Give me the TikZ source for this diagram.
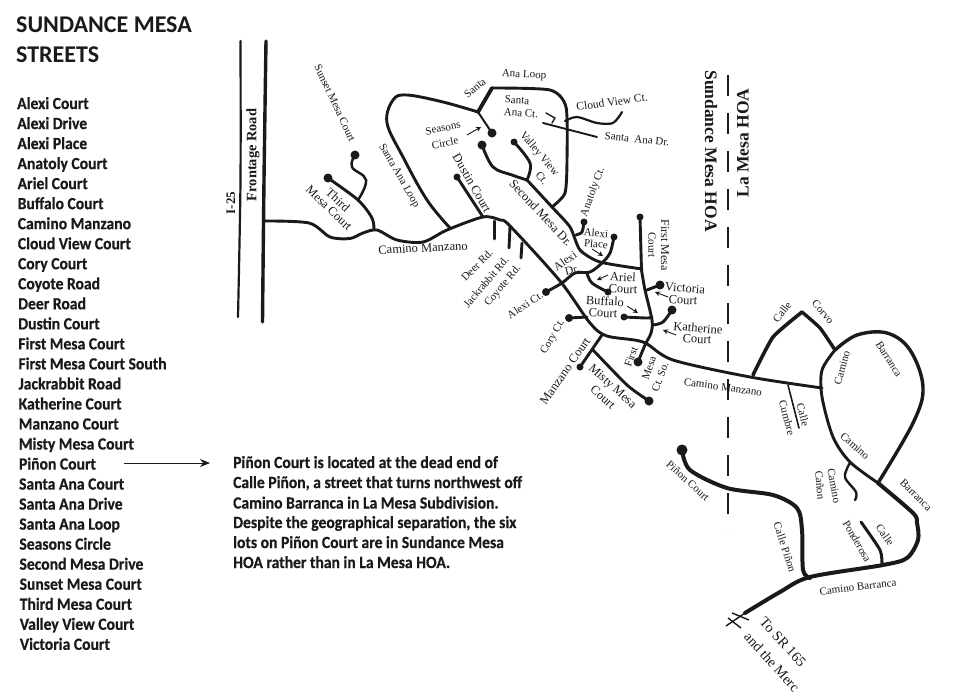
\documentclass[tikz,border=0pt]{standalone}
\usepackage{fontspec}
\setmainfont{Liberation Serif}
\newfontfamily\listfont[FakeStretch=0.92,BoldFeatures={FakeBold=0.5}]{Carlito}
\newfontfamily\titlefont{Carlito}
\usetikzlibrary{arrows.meta}
\definecolor{ink}{HTML}{1A1A1A}
\tikzset{
  road/.style={draw=ink,line width=2.9pt,line cap=round,line join=round},
  thinroad/.style={road,line width=1.7pt},
  thickroad/.style={road,line width=3.8pt},
  enddot/.style={fill=ink,draw=none,circle,inner sep=0pt,minimum size=9pt},
  lbl/.style={text=ink,font=\fontsize{11}{12}\selectfont,inner sep=0pt},
  biglbl/.style={text=ink,font=\fontsize{12.5}{14}\selectfont,inner sep=0pt},
  hoa/.style={text=ink,font=\fontsize{17.5}{18}\selectfont\bfseries,inner sep=0pt},
  listitem/.style={text=ink,anchor=base west,inner sep=0pt,font=\listfont\fontsize{17}{18}\selectfont\bfseries},
  titletext/.style={text=ink,anchor=base west,inner sep=0pt,font=\titlefont\fontsize{24}{25}\selectfont\bfseries},
  paratext/.style={text=ink,anchor=base west,inner sep=0pt,font=\listfont\fontsize{17}{18}\selectfont\bfseries},
  smallarrow/.style={draw=ink,line width=0.9pt,-{Stealth[length=5pt,width=5pt]}},
}
\begin{document}
\begin{tikzpicture}[x=1pt,y=-1pt]
\useasboundingbox (0,0) rectangle (960,699);
\fill[white] (0,0) rectangle (960,699);
% Title and list
\node[titletext] (t1) at (16,32) {SUNDANCE MESA};
\node[titletext] (t2) at (16,62.7) {STREETS};
\foreach \name [count=\i from 0] in {Alexi Court,Alexi Drive,Alexi Place,Anatoly Court,Ariel Court,Buffalo Court,Camino Manzano,Cloud View Court,Cory Court,Coyote Road,Deer Road,Dustin Court,First Mesa Court,First Mesa Court South,Jackrabbit Road,Katherine Court,Manzano Court,Misty Mesa Court,Piñon Court,Santa Ana Court,Santa Ana Drive,Santa Ana Loop,Seasons Circle,Second Mesa Drive,Sunset Mesa Court,Third Mesa Court,Valley View Court,Victoria Court}{
  \node[listitem] (item\i) at ({17+\i*0.1},{109+\i*20.03}) {\name};
}
% Paragraph
\node[paratext] (p1) at (233,468) {Piñon Court is located at the dead end of};
\node[paratext] (p2) at (233,488) {Calle Piñon, a street that turns northwest off};
\node[paratext] (p3) at (233,508.5) {Camino Barranca in La Mesa Subdivision.};
\node[paratext] (p4) at (233,528) {Despite the geographical separation, the six};
\node[paratext] (p5) at (233,548) {lots on Piñon Court are in Sundance Mesa};
\node[paratext] (p6) at (233,568) {HOA rather than in La Mesa HOA.};
\coordinate (arrA) at (124,463);
\coordinate (arrB) at (210,463);
\draw[draw=ink,line width=0.9pt,-{Stealth[length=10pt,width=8pt]}] (arrA) -- (arrB);
% Highways
\draw[road,line width=2.2pt] plot[smooth] coordinates {(240.5,41) (240.5,180) (238,317)};
\draw[road,line width=3.4pt] plot[smooth] coordinates {(266,41) (264,180) (262.5,322)};
% Camino Manzano west part
\draw[road] plot[smooth,tension=0.5] coordinates {(264,221) (309,223) (330,237) (350,238.5) (363,233) (377,230) (397,240) (423,242) (447,230) (483,217) (500,220) (510,226) (560,281) (590,323) (607,336) (643,342) (673,360) (750,377) (822,388)};
% Third mesa, sunset mesa
\draw[road] plot[smooth,tension=0.5] coordinates {(328,178) (358,200) (372,218) (374,230)};
\node[enddot] (d1) at (328,178) {};
\draw[road,line width=2.5pt] plot[smooth,tension=0.7] coordinates {(355,155) (352,167) (366,180) (358,200)};
\node[enddot] (d2) at (355,155) {};
% Santa Ana Loop
\draw[road] plot[smooth,tension=0.6] coordinates {(450,228) (427,200) (403,157) (387,123) (393,100) (407,95) (443,102) (478,112)};
\draw[thickroad] (478,112) -- (492,88);
\draw[road] plot[smooth,tension=0.4] coordinates {(492,88) (550,90) (566,107) (567,160) (565,193) (552,207)};
\draw[road,line width=2pt] (478,112) -- (492,133);
\node[enddot] (d3) at (492,133) {};
\draw[road] plot[smooth,tension=0.6] coordinates {(482,145) (493,167) (512,175) (527,180)};
\node[enddot] (d4) at (482,145) {};
\draw[road] plot[smooth,tension=0.6] coordinates {(514,142) (530,163) (527,180)};
\node[enddot,minimum size=7pt] (d5) at (514,142) {};
\draw[road] plot[smooth,tension=0.4] coordinates {(527,180) (552,207) (570,227) (580,250) (600,262) (642,269)};
\draw[road] plot[smooth,tension=0.5] coordinates {(584,222) (582,232) (576,235)};
\node[enddot,minimum size=7pt] (d6) at (584,222) {};
% First Mesa Court
\draw[road] (640,217) -- (641.5,270);
\node[enddot,minimum size=7pt] (d7) at (640,217) {};
\draw[road] plot[smooth,tension=0.5] coordinates {(641.5,270) (645,290) (652,320) (651,333) (645,345) (638,362)};
\node[enddot] (d8) at (638,362) {};
% Alexi
\draw[road] plot[smooth,tension=0.5] coordinates {(614,237) (610,253) (602,263) (590,272) (575,273) (562,283) (546,292)};
\node[enddot,minimum size=8pt] (d9) at (546,292) {};
\node[enddot,minimum size=7pt] (d10) at (614,237) {};
\draw[road] plot[smooth,tension=0.6] coordinates {(587,273) (592,283) (608,292)};
\node[enddot,minimum size=7pt] (d11) at (608,292) {};
\draw[road] (647,290) -- (660,285);
\node[enddot] (d12) at (660,285) {};
\draw[road] plot[smooth,tension=0.5] coordinates {(624,317) (647,318) (652,317)};
\node[enddot,minimum size=7pt] (d13) at (624,317) {};
\draw[road] plot[smooth,tension=0.5] coordinates {(653,325) (663,322) (672,310)};
\node[enddot] (d14) at (672,310) {};
\draw[road] (569,318) -- (587,317);
\node[enddot,minimum size=8pt] (d15) at (569,318) {};
\draw[road] (602,335) -- (580,367);
\node[enddot,minimum size=7pt] (d16) at (580,367) {};
\draw[road] plot[smooth,tension=0.4] coordinates {(593,350) (627,385) (649,401)};
\node[enddot] (d17) at (649,401) {};
% stubs
\draw[road] (494.5,221) -- (494.5,239);
\draw[road] (510,227) -- (509,248);
\draw[road] (522,243) -- (521,258);
\draw[road] (457,177) -- (483,217);
\node[enddot,minimum size=7pt] (d18) at (457,177) {};
% Cloud View, Santa Ana Dr.
\draw[road,line width=2.2pt] plot[smooth,tension=0.5] coordinates {(565,121) (577,117) (597,123) (613,123) (622,112)};
\draw[road,line width=1.9pt] (543,123) -- (597,137);
\draw[thinroad,line width=1.4pt] (546,113) -- (555,118) -- (552,123);
% Arrows
\draw[smallarrow] (467,135) -- (481,127);
\draw[smallarrow] (592,249) -- (603,256);
\draw[smallarrow] (608,275) -- (597,280);
\draw[smallarrow] (627,306) -- (638,313);
\draw[smallarrow] (668,297) -- (655,292);
\draw[smallarrow] (676,335) -- (663,330);
% East side
\draw[road,line width=3.6pt] plot[smooth,tension=0.3] coordinates {(753,375) (773,337) (802,312)};
\draw[road,line width=3.4pt] plot[smooth,tension=0.3] coordinates {(802,312) (820,328) (835,350)};
\draw[road] plot[smooth,tension=0.5] coordinates {(835,350) (822,370) (822,397) (833,437) (850,462) (878,483)};
\draw[road,line width=3.4pt] plot[smooth,tension=0.6] coordinates {(835,350) (857,335) (887,333) (910,350) (923,387) (913,423) (878,483)};
\draw[road,line width=4pt] plot[smooth,tension=0.5] coordinates {(878,483) (913,513) (917,523) (918,540) (907,558) (883,565) (810,577) (780,592) (745,613)};
\draw[thinroad,line width=1.6pt] (788,385) -- (799,428);
\draw[road,line width=2.4pt] plot[smooth,tension=0.6] coordinates {(850,463) (845,477) (856,492) (855,500)};
\draw[road,line width=3pt] plot[smooth,tension=0.4] coordinates {(861,522) (880,550) (882,565)};
\draw[thickroad,line width=4pt] plot[smooth,tension=0.5] coordinates {(682,450) (690,470) (727,488) (773,495) (797,508) (802,530) (803,570) (810,578)};
\node[enddot,minimum size=11pt] (d19) at (682,450) {};
% Road break
\draw[draw=ink,line width=1.4pt] (726,626) -- (745,613);
\draw[draw=ink,line width=1.4pt] (732,613) -- (749,620);
\draw[draw=ink,line width=1.4pt] (728,618) -- (741,628);
% HOA boundary
\draw[draw=ink,line width=1.2pt,dash pattern=on 21pt off 17pt] (728,75) -- (728,531);
% Labels
\node[lbl,rotate=90,font=\fontsize{14.4}{15}\selectfont\bfseries] (l1) at (253,155) {Frontage Road};
\node[lbl,rotate=90,font=\fontsize{13}{14}\selectfont\bfseries] (l2) at (231,203) {I-25};
\node[lbl,rotate=-65] (l3) at (335,103) {Sunset Mesa Court};
\node[biglbl,rotate=-43] (l4) at (338,200) {Third};
\node[biglbl,rotate=-44] (l5) at (329,208) {Mesa Court};
\node[lbl,rotate=-60] (l6) at (399,176) {Santa Ana Loop};
\node[lbl,rotate=12] (l7) at (443,128) {Seasons};
\node[lbl,rotate=12] (l8) at (445,143) {Circle};
\node[biglbl,rotate=-60] (l9) at (472,183) {Dustin Court};
\node[lbl,rotate=40] (l10) at (475,88) {Santa};
\node[lbl,rotate=-3] (l11) at (524,75) {Ana Loop};
\node[lbl,rotate=-4] (l12) at (517,100) {Santa};
\node[lbl,rotate=-5] (l13) at (521,113) {Ana Ct.};
\node[lbl,rotate=8,font=\fontsize{11.5}{12}\selectfont] (l14) at (612,102) {Cloud View Ct.};
\node[lbl,rotate=-6] (l15) at (637,139) {Santa\ \ Ana Dr.};
\node[lbl,rotate=-50] (l16) at (539,154) {Valley View};
\node[lbl,rotate=-50] (l17) at (542,178) {Ct.};
\node[biglbl,rotate=-47] (l18) at (541,213) {Second Mesa Dr.};
\node[lbl,rotate=70] (l19) at (593,192) {Anatoly Ct.};
\node[lbl,rotate=-5] (l20) at (596,233) {Alexi};
\node[lbl,rotate=-5] (l21) at (596,244) {Place};
\node[lbl,rotate=-90,font=\fontsize{12}{13}\selectfont] (l22) at (665,245) {First Mesa};
\node[lbl,rotate=-90] (l23) at (652,245) {Court};
\node[hoa,rotate=-90] (l24) at (711,151) {Sundance Mesa HOA};
\node[hoa,rotate=90] (l25) at (743,143) {La Mesa HOA};
\node[lbl,rotate=45] (l26) at (477,265) {Deer Rd.};
\node[lbl,rotate=50] (l27) at (486,282) {Jackrabbit Rd.};
\node[lbl,rotate=50] (l28) at (503,286) {Coyote Rd.};
\node[lbl,rotate=33] (l29) at (525,305) {Alexi Ct.};
\node[lbl,rotate=35,font=\fontsize{11.5}{12}\selectfont] (l30) at (565,261) {Alexi};
\node[lbl,rotate=15,font=\fontsize{11.5}{12}\selectfont] (l31) at (572,270) {Dr.};
\node[biglbl,rotate=-3] (l32) at (623,277) {Ariel};
\node[biglbl,rotate=-3] (l33) at (623,289) {Court};
\node[biglbl,rotate=-5] (l34) at (685,288) {Victoria};
\node[biglbl,rotate=-3] (l35) at (683,300) {Court};
\node[biglbl,rotate=-3] (l36) at (605,301) {Buffalo};
\node[biglbl,rotate=-3] (l37) at (603,313) {Court};
\node[biglbl,rotate=-5] (l38) at (698,328) {Katherine};
\node[biglbl,rotate=-3] (l39) at (697,339) {Court};
\node[lbl,rotate=60] (l40) at (553,337) {Cory Ct.};
\node[biglbl,rotate=55] (l41) at (565,371) {Manzano Court};
\node[biglbl,rotate=-42] (l42) at (612,387) {Misty Mesa};
\node[biglbl,rotate=-42] (l43) at (603,397) {Court};
\node[lbl,rotate=70] (l44) at (631,357) {First};
\node[lbl,rotate=70] (l45) at (649,368) {Mesa};
\node[lbl,rotate=70] (l46) at (660,377) {Ct. So.};
\node[lbl,rotate=-8] (l47) at (723,387) {Camino Manzano};
\node[lbl,rotate=3,font=\fontsize{12.5}{13}\selectfont] (l48) at (423,248) {Camino Manzano};
\node[lbl,rotate=52] (l49) at (782,312) {Calle};
\node[lbl,rotate=-50] (l50) at (823,312) {Corvo};
\node[lbl,rotate=75] (l51) at (842,368) {Camino};
\node[lbl,rotate=-58] (l52) at (889,359) {Barranca};
\node[lbl,rotate=-75] (l53) at (803,415) {Calle};
\node[lbl,rotate=-75] (l54) at (787,418) {Cumbre};
\node[lbl,rotate=-42] (l55) at (855,446) {Camino};
\node[lbl,rotate=-45] (l56) at (916,495) {Barranca};
\node[lbl,rotate=-80] (l57) at (834,486) {Camino};
\node[lbl,rotate=-85] (l58) at (820,485) {Cañon};
\node[lbl,rotate=-42] (l59) at (688,481) {Piñon Court};
\node[lbl,rotate=-72] (l60) at (785,547) {Calle Piñon};
\node[lbl,rotate=-60] (l61) at (857,541) {Ponderosa};
\node[lbl,rotate=-55] (l62) at (885,535) {Calle};
\node[lbl,rotate=7] (l63) at (858,587) {Camino Barranca};
\node[lbl,rotate=-48,font=\fontsize{14.4}{15}\selectfont] (l64) at (783,642) {To SR 165};
\node[lbl,rotate=-48,font=\fontsize{14.2}{15}\selectfont] (l65) at (772,662) {and the Merc};
\end{tikzpicture}
\end{document}
